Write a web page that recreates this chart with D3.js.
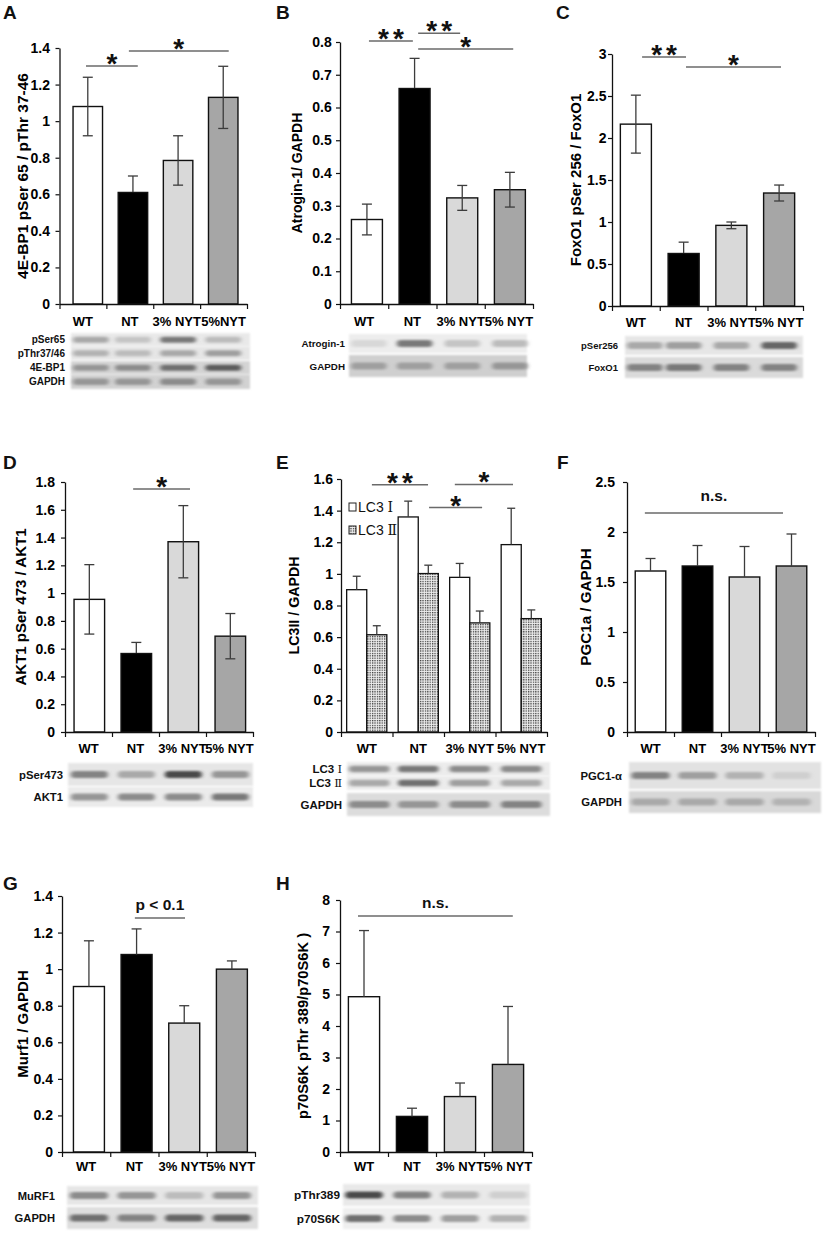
<!DOCTYPE html>
<html><head><meta charset="utf-8">
<script src="https://cdn.jsdelivr.net/npm/d3@7"></script>
<style>html,body{margin:0;padding:0;background:#fff;} svg{display:block;}</style>
</head><body><div id="chart"></div>
<script>
// ================= DATA =================
const categories  = ["WT", "NT", "3% NYT", "5% NYT"];
const categoriesA = ["WT", "NT", "3% NYT", "5%NYT"];
const groupFills  = ["#ffffff", "#000000", "#d9d9d9", "#a6a6a6"];

// A: 4E-BP1 pSer65 / pThr37-46
const valuesA = [1.08, 0.61, 0.785, 1.13];
const errorsA = [0.16, 0.09, 0.135, 0.17];
const ticksA  = [0, 0.2, 0.4, 0.6, 0.8, 1, 1.2, 1.4];
// B: Atrogin-1 / GAPDH
const valuesB = [0.258, 0.658, 0.324, 0.349];
const errorsB = [0.047, 0.092, 0.038, 0.053];
const ticksB  = [0, 0.1, 0.2, 0.3, 0.4, 0.5, 0.6, 0.7, 0.8];
// C: FoxO1 pSer256 / FoxO1
const valuesC = [2.165, 0.625, 0.96, 1.345];
const errorsC = [0.345, 0.135, 0.04, 0.095];
const ticksC  = [0, 0.5, 1, 1.5, 2, 2.5, 3];
// D: AKT1 pSer473 / AKT1
const valuesD = [0.955, 0.565, 1.37, 0.69];
const errorsD = [0.25, 0.08, 0.26, 0.163];
const ticksD  = [0, 0.2, 0.4, 0.6, 0.8, 1, 1.2, 1.4, 1.6, 1.8];
// E: LC3 / GAPDH (two series)
const lc3Series   = ["LC3 Ⅰ", "LC3 Ⅱ"];
const valuesE_I   = [0.90, 1.36, 0.978, 1.185];
const errorsE_I   = [0.085, 0.10, 0.088, 0.23];
const valuesE_II  = [0.615, 1.002, 0.69, 0.717];
const errorsE_II  = [0.057, 0.053, 0.075, 0.055];
const ticksE  = [0, 0.2, 0.4, 0.6, 0.8, 1, 1.2, 1.4, 1.6];
// F: PGC1a / GAPDH
const valuesF = [1.61, 1.66, 1.55, 1.66];
const errorsF = [0.125, 0.205, 0.305, 0.32];
const ticksF  = [0, 0.5, 1, 1.5, 2, 2.5];
// G: Murf1 / GAPDH
const valuesG = [0.905, 1.08, 0.705, 1.0];
const errorsG = [0.25, 0.14, 0.095, 0.045];
const ticksG  = [0, 0.2, 0.4, 0.6, 0.8, 1, 1.2, 1.4];
// H: p70S6K pThr389 / p70S6K
const valuesH = [4.93, 1.13, 1.76, 2.78];
const errorsH = [2.1, 0.26, 0.43, 1.84];
const ticksH  = [0, 1, 2, 3, 4, 5, 6, 7, 8];

// significance brackets: [from (category index units), to, level (data units), text]
const sigA = [[0.565, 1.67, 1.302, "*"], [1.48, 3.61, 1.384, "*"]];
const sigB = [[0.6, 1.51, 0.803, "**"], [1.62, 2.49, 0.827, "**"], [1.62, 3.59, 0.779, "*"]];
const sigC = [[0.63, 1.55, 2.964, "**"], [1.55, 3.54, 2.845, "*"]];
const sigD = [[1.45, 2.66, 1.75, "*"]];
const sigE = [[0.6, 1.69, 1.564, "**"], [1.71, 2.74, 1.419, "*"], [2.21, 3.34, 1.566, "*"]];
const sigF = [[0.38, 3.32, 2.19, "n.s."]];
const sigG = [[1.51, 2.55, 1.28, "p < 0.1"]];
const sigH = [[0.375, 3.6, 7.49, "n.s."]];

// western blot band intensities (0..1) per lane
const blotA = [["pSer65", [0.35, 0.2, 0.6, 0.25]], ["pThr37/46", [0.3, 0.25, 0.35, 0.4]], ["4E-BP1", [0.45, 0.5, 0.65, 0.75]], ["GAPDH", [0.45, 0.45, 0.5, 0.45]]];
const blotB = [["Atrogin-1", [0.1, 0.6, 0.2, 0.25]], ["GAPDH", [0.4, 0.4, 0.4, 0.45]]];
const blotC = [["pSer256", [0.35, 0.4, 0.35, 0.7]], ["FoxO1", [0.55, 0.6, 0.55, 0.55]]];
const blotD = [["pSer473", [0.55, 0.35, 0.85, 0.45]], ["AKT1", [0.45, 0.5, 0.5, 0.6]]];
const blotE = [["LC3 Ⅰ", [0.45, 0.6, 0.5, 0.5]], ["LC3 Ⅱ", [0.35, 0.65, 0.4, 0.35]], ["GAPDH", [0.5, 0.45, 0.5, 0.55]]];
const blotF = [["PGC1-α", [0.55, 0.4, 0.3, 0.15]], ["GAPDH", [0.35, 0.35, 0.35, 0.3]]];
const blotG = [["MuRF1", [0.5, 0.45, 0.25, 0.45]], ["GAPDH", [0.65, 0.55, 0.7, 0.7]]];
const blotH = [["pThr389", [0.85, 0.55, 0.3, 0.15]], ["p70S6K", [0.65, 0.5, 0.4, 0.3]]];

// ================= LAYOUT =================
const FONT = "Arial, 'Liberation Sans', Helvetica, sans-serif";
const W = 823, H = 1234;
const svg = d3.select("#chart").append("svg").attr("width", W).attr("height", H).attr("viewBox", `0 0 ${W} ${H}`);
svg.append("rect").attr("width", W).attr("height", H).attr("fill", "#fff");

const defs = svg.append("defs");
const pat = defs.append("pattern").attr("id", "dots").attr("patternUnits", "userSpaceOnUse").attr("width", 2.4).attr("height", 2.4);
pat.append("rect").attr("width", 2.4).attr("height", 2.4).attr("fill", "#eeeeee");
pat.append("rect").attr("width", 1.25).attr("height", 1.25).attr("fill", "#333");
const blur = defs.append("filter").attr("id", "blur").attr("x", "-20%").attr("y", "-80%").attr("width", "140%").attr("height", "260%");
blur.append("feGaussianBlur").attr("stdDeviation", "2.2 1.3");
const blurBg = defs.append("filter").attr("id", "blurbg");
blurBg.append("feGaussianBlur").attr("stdDeviation", "0.8");

const panels = [
  {id: "A", lx: 3, ly: 19, x0: 59.5, x1: 247, yTop: 48, y0: 304, ticks: ticksA, cats: categoriesA, values: valuesA, errors: errorsA, full: true,
   band: [0.347, 0.25, 0.6], tp: 5.5,
   title: "4E-BP1 pSer 65 / pThr 37-46", tx: 22, ts: 15.5, sig: sigA, labY: 326,
   blot: {x0: 71, x1: 250, lx: 65, fs: 10, data: blotA, rows: [[333, 346.5, "#e9e9e9"], [346.5, 360, "#e6e6e6"], [361, 374.5, "#d4d4d4"], [374.5, 389, "#d2d2d2"]]}},
  {id: "B", lx: 276, ly: 19, x0: 340, x1: 533, yTop: 42, y0: 304, ticks: ticksB, cats: categories, values: valuesB, errors: errorsB, full: true,
   band: [0.35, 0.2, 0.6], tp: 4.3,
   title: "Atrogin-1/ GAPDH", tx: 297, ts: 14, sig: sigB, labY: 326,
   blot: {x0: 349, x1: 527, lx: 345, fs: 9.8, data: blotB, rows: [[334, 353, "#ededed"], [355, 377, "#cfcfcf"]]}},
  {id: "C", lx: 556, ly: 19, x0: 612, x1: 803, yTop: 54, y0: 306, ticks: ticksC, cats: categories, values: valuesC, errors: errorsC, full: true,
   band: [0.35, 0.175, 0.5], tp: 1.5,
   title: "FoxO1 pSer 256 / FoxO1", tx: 575, ts: 15, sig: sigC, labY: 327,
   blot: {x0: 625, x1: 803, lx: 618, fs: 9.5, data: blotC, rows: [[336, 355, "#e6e6e6"], [357, 378, "#dadada"]]}},
  {id: "D", lx: 3, ly: 469, x0: 65, x1: 253, yTop: 482, y0: 732, ticks: ticksD, cats: categories, values: valuesD, errors: errorsD, full: true,
   band: [0.35, 0.175, 0.55], tp: 6,
   title: "AKT1 pSer 473 / AKT1", tx: 20, ts: 15, sig: sigD, labY: 753,
   blot: {x0: 68, x1: 253, lx: 63, fs: 11.3, data: blotD, rows: [[763, 786, "#e6e6e6"], [787, 807, "#ebebeb"]]}},
  {id: "E", lx: 276, ly: 469, x0: 341, x1: 547, yTop: 479, y0: 732, ticks: ticksE, cats: categories, grouped: true, tp: 4,
   title: "LC3II / GAPDH", tx: 294, ts: 14.2, sig: sigE, labY: 753,
   blot: {x0: 347, x1: 550, lx: 342, fs: 11.5, data: blotE, rows: [[762, 776, "#ececec"], [776, 790, "#ececec"], [793, 816, "#dcdcdc"]]}},
  {id: "F", lx: 557, ly: 469, x0: 627, x1: 815, yTop: 482, y0: 732, ticks: ticksF, cats: categories, values: valuesF, errors: errorsF, full: false,
   band: [0.35, 0.175, 0.5], tp: 8,
   title: "PGC1a / GAPDH", tx: 585, ts: 15.2, sig: sigF, labY: 753,
   blot: {x0: 629, x1: 821, lx: 622, fs: 11.3, data: blotF, rows: [[762, 789, "#e2e2e2"], [791, 813, "#d8d8d8"]]}},
  {id: "G", lx: 3, ly: 890, x0: 62, x1: 255, yTop: 896, y0: 1152, ticks: ticksG, cats: categories, values: valuesG, errors: errorsG, full: false,
   band: [0.35, 0.2, 0.6], tp: 5,
   title: "Murf1 / GAPDH", tx: 22, ts: 15, sig: sigG, labY: 1171,
   blot: {x0: 67, x1: 258, lx: 55, fs: 11.2, data: blotG, rows: [[1186, 1205, "#e6e6e6"], [1207, 1229, "#dedede"]]}},
  {id: "H", lx: 276, ly: 890, x0: 340, x1: 532, yTop: 900, y0: 1152, ticks: ticksH, cats: categories, values: valuesH, errors: errorsH, full: false,
   band: [0.35, 0.175, 0.5], tp: 6,
   title: "p70S6K pThr 389/p70S6K )", tx: 303, ts: 14.7, sig: sigH, labY: 1171,
   blot: {x0: 343, x1: 530, lx: 340, fs: 11.8, data: blotH, rows: [[1184, 1206, "#e9e9e9"], [1208, 1229, "#efefef"]]}}
];

const fmt = d => String(+d.toFixed(2));
const ERR = "#3c3c3c";

function seg(g, x1, y1, x2, y2, col) {
  g.append("line").attr("x1", x1).attr("x2", x2).attr("y1", y1).attr("y2", y2).attr("stroke", col).attr("stroke-width", 1.3);
}
// "LC3 Ⅰ" style text: latin part in given font, roman numeral in serif
function lc3Text(sel, label, bold) {
  sel.append("tspan").text(label.slice(0, 4)).attr("font-weight", bold ? "bold" : "normal");
  sel.append("tspan").text(label.slice(4)).attr("font-family", "'DejaVu Serif', 'Liberation Serif', serif")
    .attr("font-weight", "normal").attr("fill", "#111");
}

panels.forEach(p => {
  const g = svg.append("g");
  const ymax = p.ticks[p.ticks.length - 1];
  const y = d3.scaleLinear().domain([0, ymax]).range([p.y0, p.yTop]);
  const xi = d3.scaleLinear().domain([0, 4]).range([p.x0, p.x1]);

  // panel letter
  g.append("text").attr("x", p.lx).attr("y", p.ly).text(p.id)
    .attr("font-family", FONT).attr("font-weight", "bold").attr("font-size", 19).attr("fill", "#111");

  let laneScale;
  if (!p.grouped) {
    const xb = d3.scaleBand().domain(p.cats).range([p.x0, p.x1])
      .paddingInner(p.band[0]).paddingOuter(p.band[1]).align(p.band[2]);
    laneScale = xb;
    p.cats.forEach((c, i) => {
      const v = p.values[i], e = p.errors[i];
      const cx = xb(c) + xb.bandwidth() / 2;
      g.append("rect").attr("x", xb(c)).attr("y", y(v)).attr("width", xb.bandwidth()).attr("height", y(0) - y(v))
        .attr("fill", groupFills[i]).attr("stroke", "#111").attr("stroke-width", 1.4);
      seg(g, cx, y(v), cx, y(v + e), ERR);
      seg(g, cx - 5, y(v + e), cx + 5, y(v + e), ERR);
      if (p.full) {
        const lc = groupFills[i] === "#000000" ? "#000" : ERR;
        seg(g, cx, y(v), cx, y(v - e), lc);
        seg(g, cx - 5, y(v - e), cx + 5, y(v - e), lc);
      }
    });
  } else {
    const xb = d3.scaleBand().domain(p.cats).range([p.x0, p.x1]).paddingInner(0.22).paddingOuter(0.11);
    laneScale = xb;
    const xs = d3.scaleBand().domain(lc3Series).range([0, xb.bandwidth()]);
    const series = [[valuesE_I, errorsE_I, "#ffffff"], [valuesE_II, errorsE_II, "url(#dots)"]];
    p.cats.forEach((c, i) => {
      series.forEach((s, k) => {
        const v = s[0][i], e = s[1][i];
        const x = xb(c) + xs(lc3Series[k]);
        const cx = x + xs.bandwidth() / 2;
        g.append("rect").attr("x", x).attr("y", y(v)).attr("width", xs.bandwidth()).attr("height", y(0) - y(v))
          .attr("fill", s[2]).attr("stroke", "#111").attr("stroke-width", 1.3);
        seg(g, cx, y(v), cx, y(v + e), ERR);
        seg(g, cx - 4, y(v + e), cx + 4, y(v + e), ERR);
      });
    });
    // legend
    const lg = g.append("g");
    lc3Series.forEach((s, k) => {
      const ly = 507 + k * 23;
      lg.append("rect").attr("x", 349).attr("y", ly - 4).attr("width", 7).attr("height", 8)
        .attr("fill", k === 0 ? "#fff" : "url(#dots)").attr("stroke", "#222").attr("stroke-width", 1);
      const t = lg.append("text").attr("x", 358).attr("y", ly + 5)
        .attr("font-family", FONT).attr("font-size", 14).attr("fill", "#111");
      lc3Text(t, s, false);
    });
  }

  // y axis
  const ya = g.append("g").attr("transform", `translate(${p.x0},0)`)
    .call(d3.axisLeft(y).tickValues(p.ticks).tickSize(4).tickSizeOuter(0).tickFormat(fmt).tickPadding(p.tp));
  ya.select(".domain").attr("stroke", "#111").attr("stroke-width", 1.3);
  ya.selectAll(".tick line").attr("stroke", "#111").attr("stroke-width", 1.2);
  ya.selectAll(".tick text").attr("font-family", FONT).attr("font-weight", "bold").attr("font-size", 14).attr("fill", "#000");

  // x axis
  const xa = g.append("g").attr("transform", `translate(0,${p.y0})`)
    .call(d3.axisBottom(xi).tickValues([0, 1, 2, 3, 4]).tickSize(5).tickSizeOuter(0).tickFormat(""));
  xa.select(".domain").attr("stroke", "#111").attr("stroke-width", 1.3);
  xa.selectAll(".tick line").attr("stroke", "#111").attr("stroke-width", 1.2);
  p.cats.forEach((c, i) => {
    g.append("text").attr("x", xi(i + 0.5)).attr("y", p.labY).attr("text-anchor", "middle").text(c)
      .attr("font-family", FONT).attr("font-weight", "bold").attr("font-size", 13).attr("fill", "#000");
  });

  // y title
  const cy = (p.y0 + p.yTop) / 2;
  g.append("text").attr("transform", `translate(${p.tx},${cy}) rotate(-90)`).attr("text-anchor", "middle")
    .attr("dominant-baseline", "central").text(p.title)
    .attr("font-family", FONT).attr("font-weight", "bold").attr("font-size", p.ts).attr("fill", "#000");

  // significance brackets
  p.sig.forEach(s => {
    const ly = y(s[2]);
    g.append("line").attr("x1", xi(s[0])).attr("x2", xi(s[1])).attr("y1", ly).attr("y2", ly)
      .attr("stroke", "#6a6a6a").attr("stroke-width", 1.5);
    const star = s[3].indexOf("*") === 0;
    g.append("text").attr("x", (xi(s[0]) + xi(s[1])) / 2 + (star && s[3].length > 1 ? 2 : 0))
      .attr("y", star ? ly + 7 : ly - (p.id === "F" ? 12 : 8))
      .attr("text-anchor", "middle").text(s[3])
      .attr("letter-spacing", star && s[3].length > 1 ? 4 : 0)
      .attr("font-family", FONT).attr("font-weight", "bold").attr("font-size", star ? 28 : 15.5).attr("fill", "#111");
  });

  // blot
  const b = p.blot;
  const bl = svg.append("g");
  b.data.forEach((row, r) => {
    const [t, bt, bg] = b.rows[r];
    bl.append("rect").attr("x", b.x0).attr("y", t).attr("width", b.x1 - b.x0).attr("height", bt - t)
      .attr("fill", bg).attr("filter", "url(#blurbg)");
    const h = Math.min(7, (bt - t) * 0.45);
    row[1].forEach((v, i) => {
      const c = p.cats[i];
      const cx = laneScale(c) + laneScale.bandwidth() / 2;
      const lw = (b.x1 - b.x0) / 4 * 0.8;
      const gray = Math.round(235 - v * 190);
      bl.append("rect").attr("x", Math.max(b.x0 + 2, cx - lw / 2)).attr("y", (t + bt) / 2 - h / 2)
        .attr("width", lw).attr("height", h)
        .attr("rx", h / 2).attr("fill", `rgb(${gray},${gray},${gray})`).attr("filter", "url(#blur)");
    });
    const lt = bl.append("text").attr("x", b.lx).attr("y", (t + bt) / 2 + b.fs * 0.36).attr("text-anchor", "end")
      .attr("font-family", FONT).attr("font-weight", "bold").attr("font-size", b.fs).attr("fill", "#111");
    if (row[0].indexOf("LC3") === 0) lc3Text(lt, row[0], true);
    else lt.text(row[0]);
  });
});
</script>
</body></html>
